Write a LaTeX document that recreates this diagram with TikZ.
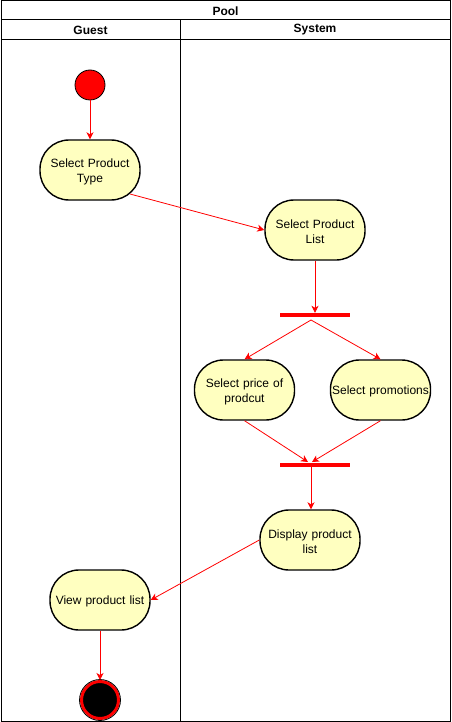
\documentclass[tikz,border=0pt]{standalone}
\usepackage{fontspec}
\setmainfont{Liberation Sans}
\usetikzlibrary{arrows.meta,calc}
\definecolor{actfill}{HTML}{FFFFC0}
\definecolor{umlred}{HTML}{FF0000}
\tikzset{
  act/.style={draw=black, line width=1.4pt, fill=actfill, rounded corners=29pt,
    minimum width=100pt, minimum height=60pt, inner sep=0pt, align=center,
    font=\fontsize{12}{15}\selectfont, text width=98pt, text height=11.5pt},
  bar/.style={fill=umlred, draw=none, minimum width=70pt, minimum height=4pt, inner sep=0pt},
  flow/.style={draw=umlred, line width=0.8pt, -{Stealth[length=7pt,width=7pt,inset=2pt]}},
  lane/.style={draw=black, line width=1pt},
  hdr/.style={font=\fontsize{12}{14}\selectfont\bfseries, inner sep=0pt},
}
\begin{document}
\begin{tikzpicture}[x=1pt,y=-1pt]
\useasboundingbox (0,0) rectangle (451,722);
% pool frame
\draw[lane] (1,1) rectangle (450,721);
\draw[lane] (1,20) -- (450,20);
\draw[lane] (1,40) -- (450,40);
\draw[lane] (180,20) -- (180,721);
\node[hdr] (pool) at (225.5,11) {Pool};
\node[hdr] (guest) at (90.5,30) {Guest};
\node[hdr] (system) at (315,30) {System};
% nodes
\node[circle, fill=umlred, draw=black, line width=0.8pt, minimum size=30pt, inner sep=0pt] (start) at (90,85) {};
\node[act] (spt) at (90,170) {Select Product\\Type};
\node[act] (spl) at (315,230) {Select Product\\List};
\node[bar] (fork) at (315,315) {};
\coordinate (forkout) at (311,320);
\node[act] (price) at (244.5,390) {Select price of\\prodcut};
\node[act] (promo) at (380.5,390) {Select promotions};
\node[bar] (join) at (315,465) {};
\coordinate (joinin1) at (308,462);
\coordinate (joinin2) at (312,462);
\coordinate (joinout) at (311,467);
\node[act] (disp) at (310,540) {Display product\\list};
\node[act] (view) at (100,600) {View product list};
\node[circle, fill=black, draw=umlred, line width=3pt, minimum size=37pt, inner sep=0pt] (end) at (100,700) {};
\draw[black, line width=0.8pt] (end.center) circle (20.5);
% flows
\draw[flow] (start) -- (spt);
\draw[flow] ($(spt.center)+(40,24)$) -- (spl.west);
\draw[flow] (spl) -- (fork);
\draw[flow] (forkout) -- (price.north);
\draw[flow] (forkout) -- (promo.north);
\draw[flow] (price.south) -- (joinin1);
\draw[flow] (promo.south) -- (joinin2);
\draw[flow] (joinout) -- (disp.north -| joinout);
\draw[flow] (disp.west) -- (view.east);
\draw[flow] (view) -- (end);
\end{tikzpicture}
\end{document}
